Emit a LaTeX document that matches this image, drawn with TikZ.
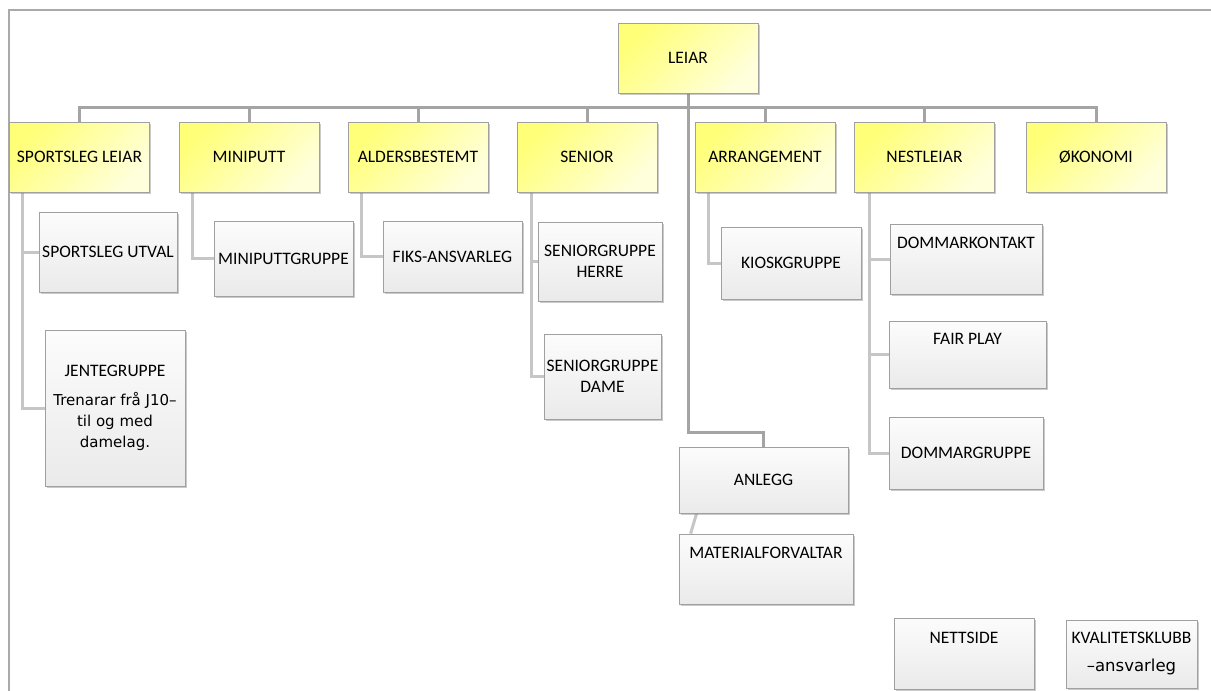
\documentclass[tikz,border=0pt]{standalone}
\usepackage{fontspec}
\setmainfont{Carlito}
\newfontfamily\dvs{DejaVu Sans}
\usetikzlibrary{shadows,backgrounds,calc}
\definecolor{ylwA}{HTML}{FFFF78}
\definecolor{ylwB}{HTML}{FFFFDC}
\definecolor{gA}{HTML}{FCFCFC}
\definecolor{gB}{HTML}{EAEAEA}
\definecolor{boxline}{HTML}{A0A0A0}
\definecolor{busline}{HTML}{A4A4A4}
\definecolor{subline}{HTML}{C6C6C6}
\definecolor{frameline}{HTML}{AAAAAA}
\newcommand{\trfont}{\dvs\fontsize{15}{21}\selectfont}
\tikzset{
  box/.style={draw=boxline, line width=0.8pt, inner sep=2pt, align=center,
    font=\fontsize{17.5}{21}\selectfont,
    drop shadow={shadow xshift=1.5pt, shadow yshift=-2pt, opacity=0.35, fill=black!60}},
  wh/.style 2 args={minimum width=#1pt, minimum height=#2pt},
  topbox/.style={box, wh={140}{70}, top color=ylwA, bottom color=ylwB, shading angle=45},
  subbox/.style={box, top color=gA, bottom color=gB},
  topalign/.style={text height=12pt, text depth=33pt},
  bus/.style={draw=busline, line width=3pt},
  sub/.style={draw=subline, line width=3pt},
  frame/.style={draw=frameline, line width=2pt}
}
\begin{document}
\begin{tikzpicture}[x=1pt, y=-1pt]
\useasboundingbox (0,0) rectangle (1211,691);
% top level
\node[topbox] (leiar)  at (688,58)   {LEIAR};
\node[topbox] (sport)  at (79.5,157) {SPORTSLEG LEIAR};
\node[topbox] (mini)   at (249,157)  {MINIPUTT};
\node[topbox] (alders) at (418,157)  {ALDERSBESTEMT};
\node[topbox] (senior) at (587,157)  {SENIOR};
\node[topbox] (arr)    at (765,157)  {ARRANGEMENT};
\node[topbox] (nest)   at (924.5,157){NESTLEIAR};
\node[topbox] (okon)   at (1096,157) {ØKONOMI};
% children
\node[subbox, wh={138}{80}] (utval) at (108,252) {SPORTSLEG UTVAL};
\node[subbox, wh={140}{156}] (jente) at (115,408)
  {JENTEGRUPPE\\[8pt]\trfont Trenarar frå J10–\\\trfont til og med\\\trfont damelag.};
\node[subbox, wh={139}{75}] (minig) at (283.5,258.5) {MINIPUTTGRUPPE};
\node[subbox, wh={139}{71}] (fiks) at (452.5,256.5) {FIKS-ANSVARLEG};
\node[subbox, wh={124}{79}] (sherre) at (600,261.5) {SENIORGRUPPE\\HERRE};
\node[subbox, wh={117}{85}] (sdame) at (602.5,376.5) {SENIORGRUPPE\\DAME};
\node[subbox, wh={140}{72}] (kiosk) at (791,263) {KIOSKGRUPPE};
\node[subbox, topalign, wh={152}{70}] (dommark) at (966,259) {DOMMARKONTAKT};
\node[subbox, topalign, wh={157}{67}] (fair) at (967.5,354.5) {FAIR PLAY};
\node[subbox, wh={154}{72}] (dommarg) at (966,453) {DOMMARGRUPPE};
\node[subbox, wh={169}{66}] (anlegg) at (763.5,480) {ANLEGG};
\node[subbox, topalign, wh={174}{70}] (mat) at (766,569) {MATERIALFORVALTAR};
\node[subbox, topalign, wh={140}{71}] (nett) at (964,653.5) {NETTSIDE};
\node[subbox, wh={131}{68}] (kval) at (1131.5,654)
  {KVALITETSKLUBB\\[7pt]{\dvs\fontsize{16.5}{21}\selectfont –ansvarleg}};
\begin{scope}[on background layer]
  \draw[frame] (8.5,691) -- (8.5,9.5) -- (1211,9.5);
  \coordinate (busy) at (0,107);
  \coordinate (anl) at (0,432);
  \draw[bus] (sport.north) -- (sport.north |- busy) -- (okon.north |- busy) -- (okon.north);
  \foreach \n in {mini,alders,senior,arr,nest}
    \draw[bus] (\n.north) -- (\n.north |- busy);
  \draw[bus] (leiar.south) -- (leiar.south |- anl) -| (anlegg.north);
  % sub connectors
  \coordinate (spv) at ($(sport.south west)+(13,0)$);
  \draw[sub] (spv) |- (utval.west);
  \draw[sub] (spv) |- (jente.west);
  \coordinate (miv) at ($(mini.south west)+(14,0)$);
  \draw[sub] (miv) |- (minig.west);
  \coordinate (alv) at ($(alders.south west)+(14,0)$);
  \draw[sub] (alv) |- (fiks.west);
  \coordinate (sev) at ($(senior.south west)+(15,0)$);
  \draw[sub] (sev) |- (sherre.west);
  \draw[sub] (sev) |- (sdame.west);
  \coordinate (arv) at ($(arr.south west)+(14,0)$);
  \draw[sub] (arv) |- (kiosk.west);
  \coordinate (nev) at ($(nest.south west)+(15,0)$);
  \draw[sub] (nev) |- (dommark.west);
  \draw[sub] (nev) |- (fair.west);
  \draw[sub] (nev) |- (dommarg.west);
  \draw[sub] ($(anlegg.south west)+(18,0)$) -- ($(mat.north west)+(12,0)$);
\end{scope}
\end{tikzpicture}
\end{document}
